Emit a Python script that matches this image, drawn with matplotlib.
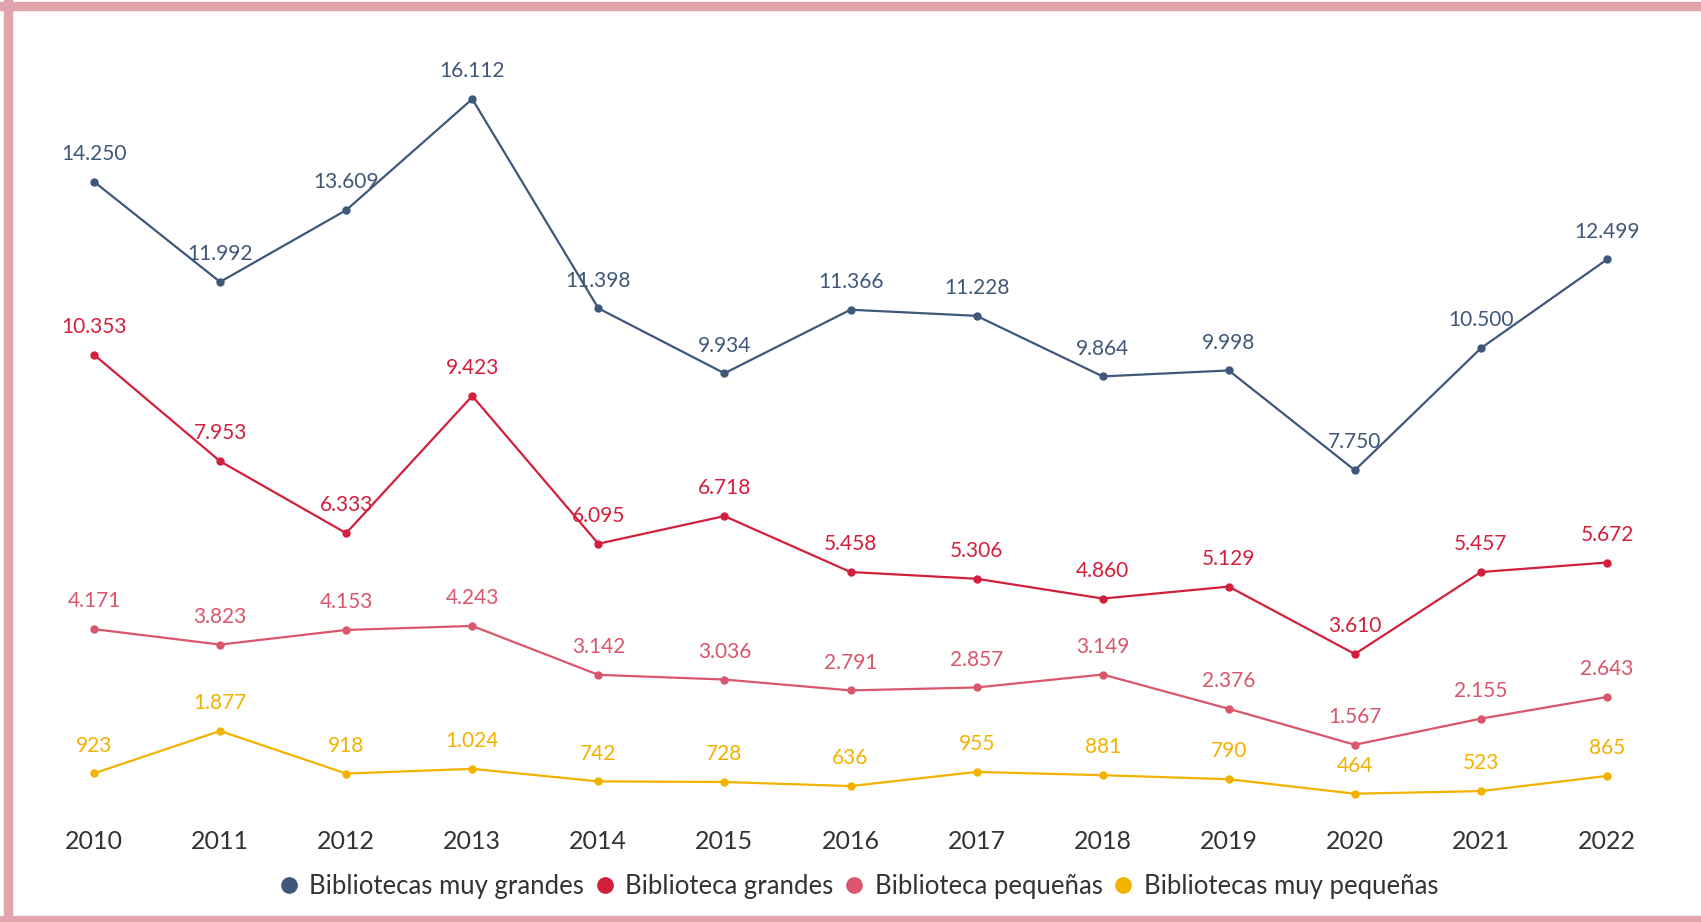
import numpy as np
import matplotlib.pyplot as plt
from matplotlib.patches import Rectangle
from matplotlib.lines import Line2D

plt.rcParams['font.family'] = ['Lato', 'DejaVu Sans']

# Data
years = list(range(2010, 2023))
muy_grandes = [14250, 11992, 13609, 16112, 11398, 9934, 11366, 11228, 9864, 9998, 7750, 10500, 12499]
grandes = [10353, 7953, 6333, 9423, 6095, 6718, 5458, 5306, 4860, 5129, 3610, 5457, 5672]
pequenas = [4171, 3823, 4153, 4243, 3142, 3036, 2791, 2857, 3149, 2376, 1567, 2155, 2643]
muy_pequenas = [923, 1877, 918, 1024, 742, 728, 636, 955, 881, 790, 464, 523, 865]

series_names = ['Bibliotecas muy grandes', 'Biblioteca grandes',
                'Biblioteca pequeñas', 'Bibliotecas muy pequeñas']
series_vals = [muy_grandes, grandes, pequenas, muy_pequenas]
colors = ['#3F5778', '#D21F3C', '#D9566B', '#F2B200']


def fmt(v):
    # thousands separator with a dot (Spanish style)
    return f'{v:,}'.replace(',', '.')


fig = plt.figure(figsize=(17.01, 9.22), dpi=100)

# pink frame: top, left and bottom bands
fig.patches.append(Rectangle((0, 0.989), 1, 0.009, transform=fig.transFigure,
                             color='#E0A4AA', zorder=0))
fig.patches.append(Rectangle((0.0025, 0), 0.0045, 1, transform=fig.transFigure,
                             color='#E0A4AA', zorder=0))
fig.patches.append(Rectangle((0, 0), 1, 0.0065, transform=fig.transFigure,
                             color='#E0A4AA', zorder=0))

ax = fig.add_axes([0.05526, 0.1168, 0.8895, 0.7758])
ax.set_xlim(2010, 2022)
ax.set_ylim(0, 16112)

for name, vals, c in zip(series_names, series_vals, colors):
    ax.plot(years, vals, color=c, lw=1.6, marker='o', markersize=5, clip_on=False)
    for x, v in zip(years, vals):
        ax.annotate(fmt(v), (x, v), xytext=(0, 20), textcoords='offset points',
                    ha='center', va='center', fontsize=15, color=c)

for s in ax.spines.values():
    s.set_visible(False)
ax.set_yticks([])
ax.set_xticks(years)
ax.set_xticklabels([str(y) for y in years], fontsize=18, color='#333333')
ax.tick_params(axis='x', length=0, pad=11)

handles = [Line2D([], [], marker='o', ls='', color=c, markersize=11) for c in colors]
fig.legend(handles, series_names, loc='center', bbox_to_anchor=(0.5, 0.0385),
           ncol=4, frameon=False, fontsize=18.5, handletextpad=-0.2,
           columnspacing=-0.2, labelcolor='#333333')

fig.savefig('out.png', dpi=100)
